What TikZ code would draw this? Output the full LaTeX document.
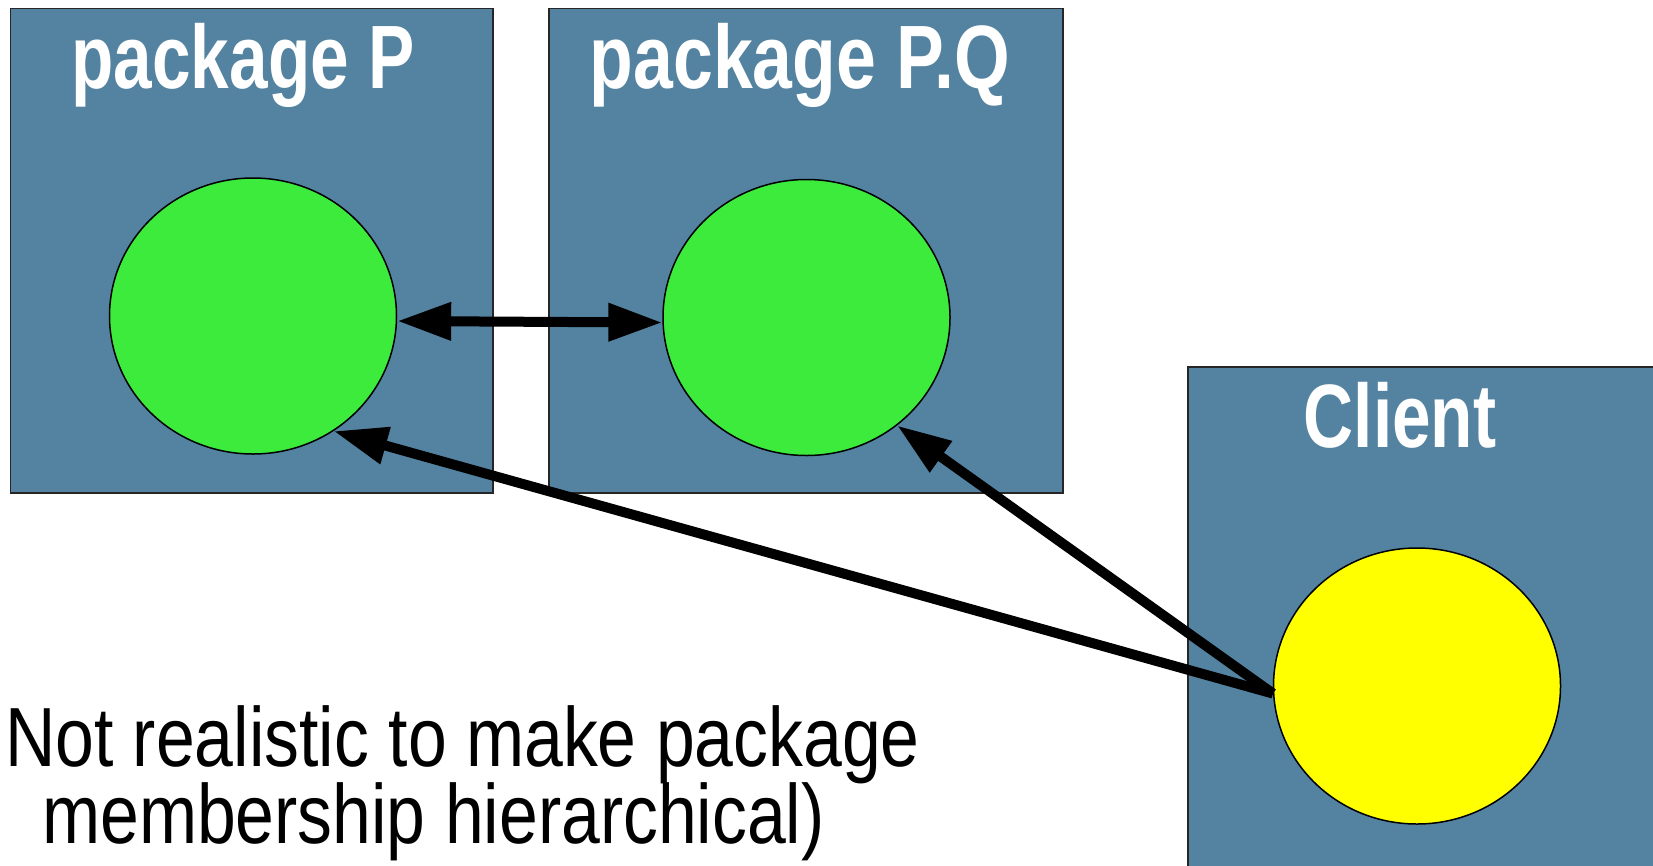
\documentclass[tikz,border=0pt]{standalone}
\usepackage{fontspec}
\setmainfont{Liberation Sans}
\usetikzlibrary{arrows.meta,shapes.geometric}
\definecolor{boxblue}{RGB}{83,131,161}
\definecolor{ballgreen}{RGB}{61,235,61}
\definecolor{ballyellow}{RGB}{255,255,0}
\tikzset{
  pkgbox/.style={draw=black!85, line width=1.5pt, fill=boxblue, rectangle, inner sep=0pt},
  ball/.style={draw=black, line width=1.5pt, ellipse, inner sep=0pt, minimum width=287pt, minimum height=276pt},
  boxlabel/.style={text=white, anchor=base, inner sep=0pt, font=\fontsize{90}{90}\selectfont\bfseries},
  note/.style={text=black, anchor=base west, inner sep=0pt, font=\fontsize{84}{84}\selectfont},
  conn/.style={draw=black, line width=10pt, -{Triangle[length=54pt,width=36pt]}},
  biconn/.style={draw=black, line width=10pt, {Triangle[length=54pt,width=36pt]}-{Triangle[length=54pt,width=36pt]}}
}
\begin{document}
\begin{tikzpicture}[x=1pt,y=-1pt]
\useasboundingbox (0,0) rectangle (1653,865);
\clip (0,0) rectangle (1653,865);
\fill[white] (0,0) rectangle (1653,865);
% boxes
\node[pkgbox, minimum width=482.5pt, minimum height=484.6pt] (boxP) at (251.75,250.7) {};
\node[pkgbox, minimum width=514pt, minimum height=484.6pt] (boxQ) at (806,250.7) {};
\node[pkgbox, minimum width=500pt, minimum height=540pt] (boxC) at (1438,637) {};
% labels
\node[boxlabel] (labP) at (243,88) {\scalebox{0.77}[1]{package P}};
\node[boxlabel] (labQ) at (800,88) {\scalebox{0.795}[1]{package P.Q}};
\node[boxlabel] (labC) at (1400,447) {\scalebox{0.77}[1]{Client}};
% balls
\node[ball, fill=ballgreen] (P) at (253,316) {};
\node[ball, fill=ballgreen] (Q) at (806.5,317.5) {};
\node[ball, fill=ballyellow] (Y) at (1417,686) {};
% connectors
\draw[biconn] (P.-2) -- (Q.182);
\draw[conn] (Y.183) -- (P.-55);
\draw[conn] (Y.183) -- (Q.-50);
% note
\node[note] (note1) at (5,766) {\scalebox{0.83}[1]{Not realistic to make package}};
\node[note] (note2) at (42,843) {\scalebox{0.83}[1]{membership hierarchical)}};
\end{tikzpicture}
\end{document}
